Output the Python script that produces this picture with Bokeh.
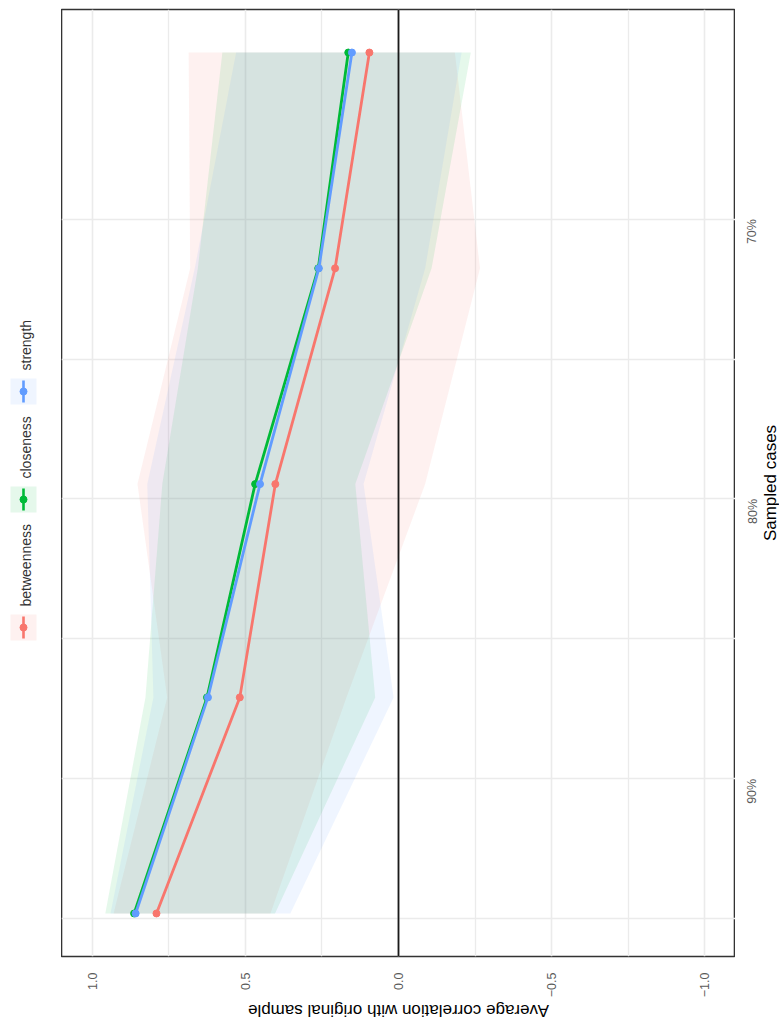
import math
from bokeh.plotting import figure
from bokeh.models import Range1d, FixedTicker, Span
from bokeh.layouts import row, column
from bokeh.embed import file_html
from bokeh.resources import INLINE
from bokeh.core.properties import value

# ---------------- data ----------------
measures = ["betweenness", "closeness", "strength"]
colors = ["#F8766D", "#00BA38", "#619CFF"]

sampled_pct = [94.81, 87.09, 79.47, 71.76, 64.05]

betweenness_mean = [0.790, 0.518, 0.402, 0.207, 0.095]
closeness_mean = [0.863, 0.625, 0.468, 0.262, 0.164]
strength_mean = [0.858, 0.622, 0.452, 0.260, 0.152]

betweenness_lo = [0.418, 0.170, -0.087, -0.266, -0.184]
betweenness_hi = [0.930, 0.755, 0.852, 0.680, 0.685]
closeness_lo = [0.403, 0.076, 0.141, -0.108, -0.236]
closeness_hi = [0.957, 0.826, 0.771, 0.655, 0.575]
strength_lo = [0.353, 0.016, 0.114, -0.087, -0.206]
strength_hi = [0.940, 0.800, 0.820, 0.665, 0.530]

corr_ticks = [1.0, 0.5, 0.0, -0.5, -1.0]
corr_tick_labels = ["1.0", "0.5", "0.0", "\u22120.5", "\u22121.0"]
corr_minor = [0.75, 0.25, -0.25, -0.75]
pct_ticks = [70, 80, 90]
pct_tick_labels = ["70%", "80%", "90%"]
pct_minor = [75, 85, 95]

x_title = "Average correlation with original sample"
y_title = "Sampled cases"

means = [betweenness_mean, closeness_mean, strength_mean]
los = [betweenness_lo, closeness_lo, strength_lo]
his = [betweenness_hi, closeness_hi, strength_hi]

FONT = "Liberation Sans"

# layout sizes (px)
LEG_W = 61
FRAME_W, FRAME_H = 674, 947
TOP, BOTTOM = 9, 42
RIGHT_W = 44
XT_H = 20

# ranges (ggplot-style 5% expansion)
ymin, ymax = min(sampled_pct), max(sampled_pct)
pad = 0.05 * (ymax - ymin)
y_top, y_bot = ymin - pad, ymax + pad
x_left, x_right = 1.1, -1.1

# ---------------- main panel ----------------
p = figure(frame_width=FRAME_W, frame_height=FRAME_H,
           x_range=Range1d(x_left, x_right),
           y_range=Range1d(y_bot, y_top),
           x_axis_location="below", y_axis_location=None,
           output_backend="svg", toolbar_location=None,
           min_border_top=TOP, min_border_left=0, min_border_right=0,
           min_border_bottom=BOTTOM,
           background_fill_color="white", border_fill_color="white")

p.outline_line_color = "#333333"
p.outline_line_width = 1.6

for g in p.ygrid:
    g.ticker = FixedTicker(ticks=pct_ticks, minor_ticks=pct_minor)
for g in p.grid:
    g.grid_line_color = "#EBEBEB"
    g.grid_line_width = 1.6
    g.minor_grid_line_color = "#EBEBEB"
    g.minor_grid_line_width = 1.3

def style_axis(ax):
    ax.axis_line_color = None
    ax.major_tick_line_color = None
    ax.minor_tick_line_color = None
    ax.major_tick_out = 0
    ax.major_tick_in = 0
    ax.minor_tick_out = 0
    ax.minor_tick_in = 0
    ax.major_label_text_font = FONT
    ax.major_label_text_font_size = "12.5px"
    ax.major_label_text_color = "#5a5a5a"

xa = p.xaxis[0]
xa.ticker = FixedTicker(ticks=corr_ticks, minor_ticks=corr_minor)
xa.major_label_overrides = dict(zip(corr_ticks, corr_tick_labels))
xa.major_label_orientation = math.pi / 2
xa.major_label_standoff = 16
style_axis(xa)

# ribbons
for c, lo, hi in zip(colors, los, his):
    p.harea(y=sampled_pct, x1=lo, x2=hi, fill_color=c, fill_alpha=0.1)

p.add_layout(Span(location=0, dimension="height", line_color="#1a1a1a", line_width=1.8))

for c, m in zip(colors, means):
    p.line(x=m, y=sampled_pct, line_color=c, line_width=2.8)
    p.scatter(x=m, y=sampled_pct, fill_color=c, line_color=c, size=7)

# ---------------- right strip: sampled-cases axis + title ----------------
yfig = figure(width=RIGHT_W, frame_height=FRAME_H,
              x_range=Range1d(0, 1), y_range=p.y_range,
              x_axis_location=None, y_axis_location="left",
              output_backend="svg", toolbar_location=None,
              min_border_top=TOP, min_border_left=23, min_border_right=0,
              min_border_bottom=BOTTOM, outline_line_color=None,
              background_fill_color="white", border_fill_color="white")
yfig.grid.visible = False
ya = yfig.yaxis[0]
ya.ticker = FixedTicker(ticks=pct_ticks, minor_ticks=pct_minor)
ya.major_label_overrides = dict(zip(pct_ticks, pct_tick_labels))
ya.major_label_orientation = math.pi / 2
ya.major_label_standoff = 10
style_axis(ya)
yfig.text(x=[0.45], y=[(y_top + y_bot) / 2], text=[y_title], angle=math.pi / 2,
          text_align="center", text_baseline="middle",
          text_font=value(FONT), text_font_size="17px", text_color="black")

# ---------------- bottom strip: correlation title ----------------
xt = figure(width=FRAME_W, height=XT_H,
            x_range=Range1d(0, FRAME_W), y_range=Range1d(XT_H, 0),
            x_axis_location=None, y_axis_location=None,
            output_backend="svg", toolbar_location=None,
            min_border=0, outline_line_color=None,
            background_fill_color="white", border_fill_color="white")
xt.grid.visible = False
xt.text(x=[FRAME_W / 2], y=[10], text=[x_title], angle=math.pi,
        text_align="center", text_baseline="middle",
        text_font=value(FONT), text_font_size="17px", text_color="black")

# ---------------- rotated legend (left strip, page coordinates) ----------------
leg = figure(width=LEG_W, frame_height=FRAME_H,
             x_range=Range1d(0, LEG_W), y_range=Range1d(TOP + FRAME_H, TOP),
             x_axis_location=None, y_axis_location=None,
             output_backend="svg", toolbar_location=None,
             min_border_top=TOP, min_border_bottom=BOTTOM, min_border_left=0,
             min_border_right=0, outline_line_color=None,
             background_fill_color="white", border_fill_color="white")
leg.grid.visible = False

key_y = [627, 499, 391]
key_x = 23
for name, c, ky in zip(measures, colors, key_y):
    leg.rect(x=[key_x], y=[ky], width=26, height=26, fill_color=c, fill_alpha=0.1, line_color=None)
    leg.segment(x0=[key_x], y0=[ky - 11], x1=[key_x], y1=[ky + 11], line_color=c, line_width=2.6)
    leg.scatter(x=[key_x], y=[ky], size=7, fill_color=c, line_color=c)
    leg.text(x=[key_x + 2], y=[ky - 21], text=[name], angle=math.pi / 2,
             text_align="left", text_baseline="middle",
             text_font=value(FONT), text_font_size="14px", text_color="#333333")

layout = row(leg, column(row(p, yfig), xt))
open("out.html", "w").write(file_html(layout, INLINE))
